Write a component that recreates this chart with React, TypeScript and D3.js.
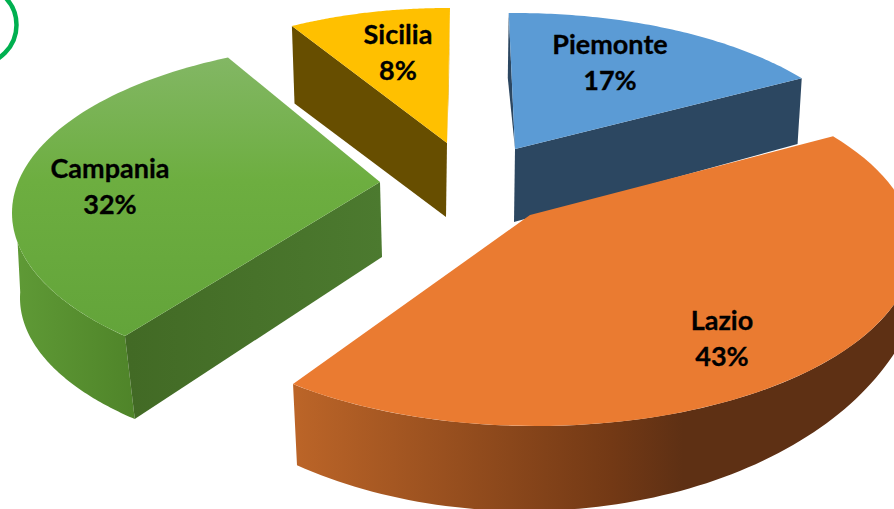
import React from "react";
import * as d3 from "d3";

const WIDTH = 894;
const HEIGHT = 509;

// Data
const regions = ["Piemonte", "Lazio", "Campania", "Sicilia"];
const shares = [17, 43, 32, 8];

// Styling per region
const topFills = ["#5B9BD5", "#EA7B31", "url(#campaniaTop)", "#FFC000"];
const cutFills = ["#2C4761", "#5E3014", "url(#campaniaCut)", "#674E00"];
const wallFills = ["#2C4761", "url(#lazioWall)", "url(#campaniaWall)", "#DDA500"];

type Pt = [number, number];
type Ellipse = { c: number[]; rx: number; ry: number };

// Projection of each exploded slice onto the screen (ellipses for top and bottom rim).
const geometry: any[] = [
  {
    apex: [515, 149], apexB: [514, 222],
    top: { c: [515, 178], rx: 360, ry: 165 }, phi: [-1, 52.8],
    bot: { c: [514, 245], rx: 356, ry: 167 }, phiB: [-1, 52.8],
    cut: "end", sliver: "start",
    label: [610, 45],
  },
  {
    apex: [530, 215], apexB: [530, 290],
    top: { c: [536, 247], rx: 378, ry: 179 }, phi: [51.8, 220],
    bot: { c: [525, 255], rx: 400, ry: 256 }, phiB: [105, 214.75],
    wall: [88, 220],
    label: [722, 321],
  },
  {
    apex: [380, 182], apexB: [382, 257],
    top: { c: [382, 213], rx: 370, ry: 171 }, phi: [224, 335.4],
    bot: { c: [378, 298], rx: 358, ry: 165 }, phiB: [222.8, 272],
    wall: [224, 260],
    cut: "start",
    label: [110, 169],
  },
  {
    apex: [447, 143], apexB: [446, 217],
    top: { c: [447, 176], rx: 344, ry: 168 }, phi: [333.2, 360.5],
    bot: { c: [446, 248], rx: 336, ry: 162 }, phiB: [333.2, 360.5],
    cut: "start", sliver: "end",
    label: [398, 35],
  },
];

const rad = (deg: number) => (deg * Math.PI) / 180;
const onEllipse = (e: Ellipse, deg: number): Pt => [
  e.c[0] + e.rx * Math.sin(rad(deg)),
  e.c[1] - e.ry * Math.cos(rad(deg)),
];
const arcPts = (e: Ellipse, a: number, b: number): Pt[] =>
  d3.range(0, 81).map((i) => onEllipse(e, a + ((b - a) * i) / 80));

const line = d3.line<Pt>().x((d) => d[0]).y((d) => d[1]);

export default function App() {
  const arcs = d3
    .pie<number>()
    .sort(null)
    .startAngle(0)
    .endAngle(2 * Math.PI)(shares);

  const slices = regions.map((name, i) => {
    const g = geometry[i];
    const toPhi = d3
      .scaleLinear()
      .domain([arcs[i].startAngle, arcs[i].endAngle])
      .range(g.phi);
    const a = toPhi(arcs[i].startAngle);
    const b = toPhi(arcs[i].endAngle);
    const rimAt = (side: string) => onEllipse(g.top, side === "start" ? a : b);
    const botAt = (side: string) =>
      onEllipse(g.bot, side === "start" ? g.phiB[0] : g.phiB[1]);

    const topPath = line([g.apex, ...arcPts(g.top, a, b)]) + "Z";
    const wallPath = g.wall
      ? line([
          ...arcPts(g.top, g.wall[0], g.wall[1]),
          ...arcPts(g.bot, g.phiB[1], g.phiB[0]),
        ]) + "Z"
      : g.sliver
      ? line([rimAt(g.sliver), botAt(g.sliver), g.apex]) + "Z"
      : "";
    const cutPath = g.cut
      ? line([g.apex, rimAt(g.cut), botAt(g.cut), g.apexB]) + "Z"
      : "";
    return { name, share: shares[i], g, i, topPath, wallPath, cutPath };
  });

  // Paint order: back slices first so the large front slice overlaps them.
  const order = [0, 3, 2, 1];

  return (
    <svg
      width={WIDTH}
      height={HEIGHT}
      viewBox={`0 0 ${WIDTH} ${HEIGHT}`}
      style={{ position: "fixed", left: 0, top: 0, background: "#fff", display: "block" }}
    >
      <defs>
        <linearGradient id="campaniaTop" gradientUnits="userSpaceOnUse" x1="0" y1="55" x2="0" y2="335">
          <stop offset="0" stopColor="#83B765" />
          <stop offset="0.45" stopColor="#6DAE40" />
          <stop offset="1" stopColor="#63A43A" />
        </linearGradient>
        <linearGradient id="campaniaCut" gradientUnits="userSpaceOnUse" x1="130" y1="0" x2="382" y2="0">
          <stop offset="0" stopColor="#426A25" />
          <stop offset="1" stopColor="#4C7A2F" />
        </linearGradient>
        <linearGradient id="campaniaWall" gradientUnits="userSpaceOnUse" x1="15" y1="0" x2="135" y2="0">
          <stop offset="0" stopColor="#5F9A36" />
          <stop offset="1" stopColor="#4F8429" />
        </linearGradient>
        <linearGradient id="lazioWall" gradientUnits="userSpaceOnUse" x1="292" y1="0" x2="894" y2="0">
          <stop offset="0" stopColor="#BC6528" />
          <stop offset="0.53" stopColor="#733915" />
          <stop offset="0.65" stopColor="#5E3014" />
          <stop offset="1" stopColor="#5E3014" />
        </linearGradient>
      </defs>

      <circle cx={-23} cy={25} r={39.5} fill="none" stroke="#00B050" strokeWidth={4.5} />

      {order.map((idx) => {
        const s = slices[idx];
        return (
          <g key={s.name}>
            {s.wallPath && <path d={s.wallPath} fill={wallFills[s.i]} />}
            {s.cutPath && <path d={s.cutPath} fill={cutFills[s.i]} />}
            <path d={s.topPath} fill={topFills[s.i]} />
          </g>
        );
      })}

      {slices.map((s) => (
        <text
          key={s.name}
          textAnchor="middle"
          fontFamily="Lato"
          fontWeight={700}
          fontSize={27}
          fill="#000"
          stroke="#000"
          strokeWidth={0.3}
        >
          <tspan x={s.g.label[0]} y={s.g.label[1] + 9}>{s.name}</tspan>
          <tspan x={s.g.label[0]} y={s.g.label[1] + 45}>{s.share}%</tspan>
        </text>
      ))}
    </svg>
  );
}
